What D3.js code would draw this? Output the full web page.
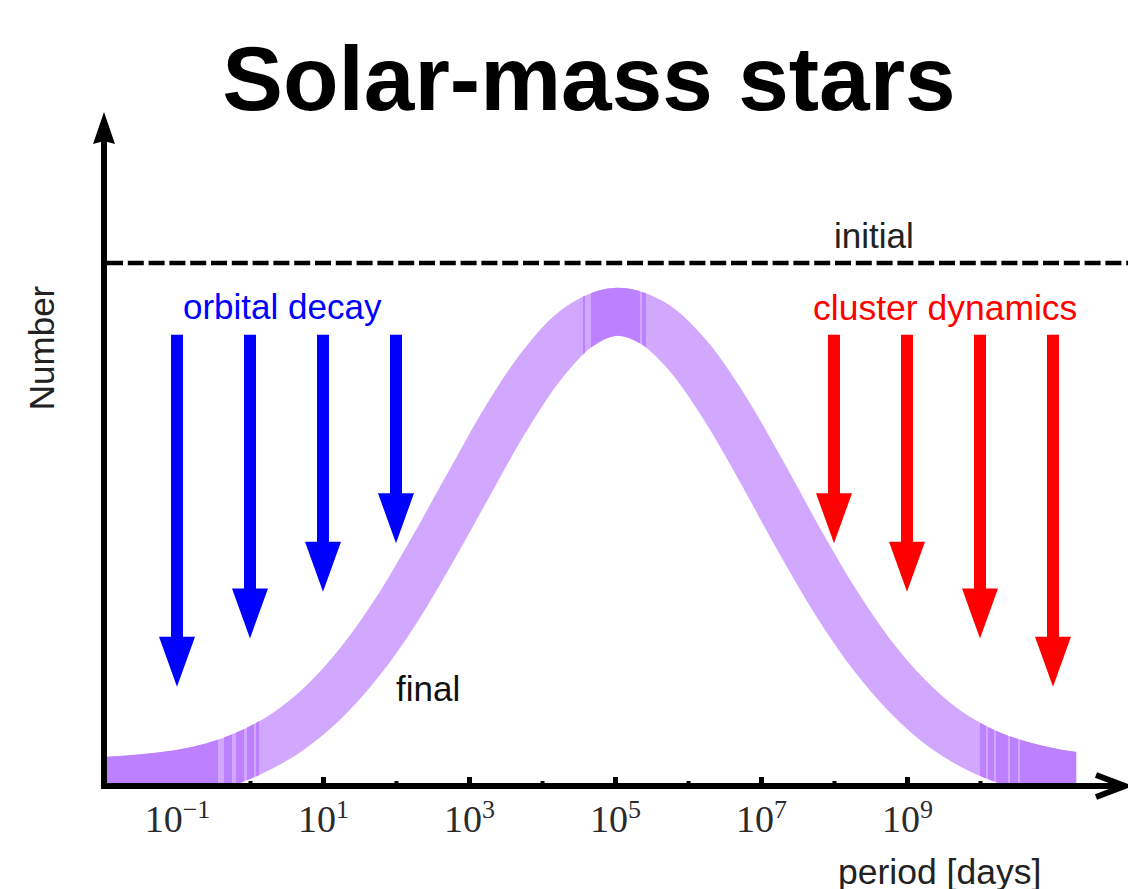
<!DOCTYPE html>
<html>
<head>
<meta charset="utf-8">
<script src="https://cdn.jsdelivr.net/npm/d3@7"></script>
<style>
  html, body { margin: 0; padding: 0; background: #fff; }
  svg { display: block; }
</style>
</head>
<body>
<script>
// Orbital-period distribution of binaries around solar-mass stars.
// log10(P / days) sampled along the final distribution
const logPeriod = [-2, -1.5, -1, -0.5, 0, 0.5, 1, 1.5, 2, 2.5, 3, 3.5, 4, 4.5, 5,
                   5.5, 6, 6.5, 7, 7.5, 8, 8.5, 9, 9.5, 10, 10.5, 11, 11.32];
// relative number of systems (initial flat level = 1)
const finalNumber = [0.004, 0.009, 0.017, 0.032, 0.058, 0.097, 0.154, 0.232, 0.331, 0.449,
                     0.575, 0.699, 0.804, 0.877, 0.906, 0.886, 0.822, 0.722, 0.601, 0.473,
                     0.353, 0.250, 0.168, 0.106, 0.064, 0.037, 0.020, 0.013];
const initialNumber = 1.0;

// depletion arrows: log10 P position, start level and tip level
const decayPeriods = [-1, 0, 1, 2];
const decayTips = [0.185, 0.278, 0.368, 0.461];
const clusterPeriods = [8, 9, 10, 11];
const clusterTips = [0.461, 0.368, 0.278, 0.185];
const arrowStart = 0.862;

// axis ticks (log10 P)
const majorTicks = [-1, 1, 3, 5, 7, 9, 11];
const minorTicks = [0, 2, 4, 6, 8, 10];
const labelledTicks = [-1, 1, 3, 5, 7, 9];

// log10 P ranges where the band is rendered in the denser shade
const denseRanges = [
  [-2.1, -0.438], [-0.356, -0.247], [-0.192, -0.082], [-0.041, 0.055], [0.082, 0.123],
  [4.562, 4.589], [4.671, 5.342], [5.370, 5.425],
  [10.0, 10.082], [10.110, 10.192], [10.219, 10.384], [10.411, 10.521], [10.548, 11.4]
];

const W = 1128, H = 889;
const svg = d3.select("body").append("svg").attr("width", W).attr("height", H);

const x = d3.scaleLog().domain([1e-2, 1e12]).range([104, 1126]);
const y = d3.scaleLinear().domain([0, 1]).range([783, 263]);
const xp = p => x(Math.pow(10, p));

const sans = "'Liberation Sans', Arial, Helvetica, sans-serif";
const serif = "'Liberation Serif', 'Times New Roman', serif";

// title
svg.append("text")
  .attr("x", 589).attr("y", 110)
  .attr("text-anchor", "middle")
  .attr("font-family", sans).attr("font-weight", "bold").attr("font-size", 91)
  .attr("fill", "#000")
  .text("Solar-mass stars");

// ticks along the period axis (drawn under the band)
const axisY = 786;
const gMajor = svg.append("g").attr("transform", `translate(0,${axisY})`)
  .call(d3.axisBottom(x)
    .tickValues(majorTicks.map(p => Math.pow(10, p)))
    .tickSizeInner(-9).tickSizeOuter(0).tickPadding(46)
    .tickFormat(() => ""));
gMajor.select(".domain").remove();
gMajor.selectAll(".tick line").attr("stroke", "#000").attr("stroke-width", 5);

const gMinor = svg.append("g").attr("transform", `translate(0,${axisY})`)
  .call(d3.axisBottom(x)
    .tickValues(minorTicks.map(p => Math.pow(10, p)))
    .tickSizeInner(-5).tickSizeOuter(0)
    .tickFormat(() => ""));
gMinor.select(".domain").remove();
gMinor.selectAll(".tick line").attr("stroke", "#000").attr("stroke-width", 4);

// tick labels 10^n
gMajor.selectAll(".tick").each(function (d) {
  const e = Math.round(Math.log10(d));
  const t = d3.select(this).select("text");
  if (!labelledTicks.includes(e)) { t.remove(); return; }
  t.attr("y", 46).attr("dy", null)
    .attr("font-family", serif).attr("font-size", 38).attr("fill", "#2b2b2b")
    .attr("text-anchor", "middle");
  t.text(null);
  t.append("tspan").text("10");
  t.append("tspan").attr("font-size", 26).attr("dy", -14)
    .text(e < 0 ? "\u2212" + Math.abs(e) : String(e));
});

// final distribution band
const pts = logPeriod.map((p, i) => ({ p, v: finalNumber[i] }));
const xEnd = xp(logPeriod[logPeriod.length - 1]);
const defs = svg.append("defs");
defs.append("clipPath").attr("id", "bandClip")
  .append("rect").attr("x", 104).attr("y", 0).attr("width", xEnd - 104).attr("height", y(0));
const denseClip = defs.append("clipPath").attr("id", "denseClip");
denseRanges.forEach(([a, b]) => {
  const x0 = Math.max(104, xp(a)), x1 = Math.min(xEnd, xp(b));
  denseClip.append("rect").attr("x", x0).attr("y", 0).attr("width", Math.max(0, x1 - x0)).attr("height", y(0));
});

const line = d3.line().x(d => xp(d.p)).y(d => y(d.v)).curve(d3.curveCatmullRom);
const bandG = svg.append("g").attr("clip-path", "url(#bandClip)");
bandG.append("path").datum(pts)
  .attr("d", line).attr("fill", "none")
  .attr("stroke", "#d2a8ff").attr("stroke-width", 48).attr("stroke-linecap", "square");
bandG.append("g").attr("clip-path", "url(#denseClip)")
  .append("path").datum(pts)
  .attr("d", line).attr("fill", "none")
  .attr("stroke", "#bd80ff").attr("stroke-width", 48).attr("stroke-linecap", "square");

// initial (flat) distribution
svg.append("line")
  .attr("x1", 107).attr("x2", W).attr("y1", y(initialNumber)).attr("y2", y(initialNumber))
  .attr("stroke", "#000").attr("stroke-width", 4.5).attr("stroke-dasharray", "16,4.8");

// arrows
function arrowPath(p, tip) {
  const cx = xp(p), y0 = y(arrowStart), y1 = y(tip);
  const hw = 6, headW = 18, headL = 50;
  return `M${cx - hw},${y0}L${cx + hw},${y0}L${cx + hw},${y1 - headL}L${cx + headW},${y1 - headL}` +
         `L${cx},${y1}L${cx - headW},${y1 - headL}L${cx - hw},${y1 - headL}Z`;
}
svg.append("g").selectAll("path").data(decayPeriods).join("path")
  .attr("d", (p, i) => arrowPath(p, decayTips[i])).attr("fill", "#0000ff");
svg.append("g").selectAll("path").data(clusterPeriods).join("path")
  .attr("d", (p, i) => arrowPath(p, clusterTips[i])).attr("fill", "#ff0000");

// labels
svg.append("text").attr("x", 183).attr("y", 319)
  .attr("font-family", sans).attr("font-size", 35).attr("fill", "#0000ff")
  .text("orbital decay");
svg.append("text").attr("x", 813).attr("y", 320)
  .attr("font-family", sans).attr("font-size", 35.5).attr("fill", "#ff0000")
  .text("cluster dynamics");
svg.append("text").attr("x", xp(8)).attr("y", y(initialNumber) - 15)
  .attr("font-family", sans).attr("font-size", 35).attr("fill", "#222")
  .text("initial");
svg.append("text").attr("x", xp(2)).attr("y", 701)
  .attr("font-family", sans).attr("font-size", 35).attr("fill", "#111")
  .text("final");

// axes with arrow heads
svg.append("line").attr("x1", 101).attr("x2", 1121).attr("y1", axisY).attr("y2", axisY)
  .attr("stroke", "#000").attr("stroke-width", 6);
svg.append("path").attr("d", `M1096,775L1125,${axisY}L1096,797`)
  .attr("fill", "none").attr("stroke", "#000").attr("stroke-width", 6)
  .attr("stroke-linejoin", "miter").attr("stroke-linecap", "butt");
svg.append("line").attr("x1", 104).attr("x2", 104).attr("y1", axisY + 3).attr("y2", 140)
  .attr("stroke", "#000").attr("stroke-width", 6);
svg.append("path").attr("d", "M104,112L115,144L104,141L93,144Z").attr("fill", "#000");

svg.append("text")
  .attr("transform", "translate(54,348) rotate(-90)")
  .attr("text-anchor", "middle")
  .attr("font-family", sans).attr("font-size", 35).attr("fill", "#222")
  .text("Number");
svg.append("text").attr("x", 838).attr("y", 884)
  .attr("font-family", sans).attr("font-size", 35.5).attr("fill", "#222")
  .text("period [days]");
</script>
</body>
</html>
